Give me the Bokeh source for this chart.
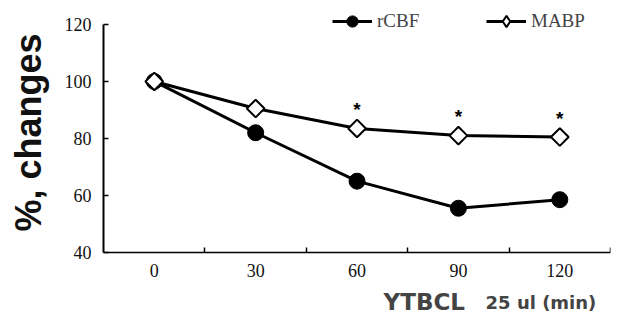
import math
from bokeh.plotting import figure
from bokeh.models import FixedTicker, Range1d, Label, Legend, LegendItem
from bokeh.core.properties import value
from bokeh.embed import file_html
from bokeh.resources import INLINE

# data
minutes = [0, 30, 60, 90, 120]
rcbf = [100, 82, 65, 55.5, 58.5]
mabp = [100, 90.5, 83.5, 81, 80.5]
star_minutes = [60, 90, 120]
star_values = [83.5, 81, 80.5]
y_ticks = [40, 60, 80, 100, 120]
x_ticks = [0, 30, 60, 90, 120]
x_minor = [15, 45, 75, 105, 135]

p = figure(width=617, height=322, output_backend="svg", toolbar_location=None,
           x_range=Range1d(-45.5, 135), y_range=Range1d(15.4, 124.9),
           min_border_left=0, min_border_right=7, min_border_top=10, min_border_bottom=0)
p.outline_line_color = None
p.xgrid.grid_line_color = None
p.ygrid.grid_line_color = None
p.background_fill_color = "white"

serif = "Liberation Serif"

xa = p.xaxis[0]
xa.fixed_location = 40
xa.bounds = (-15, 135)
xa.ticker = FixedTicker(ticks=x_ticks, minor_ticks=x_minor)
xa.major_tick_out = 0
xa.major_tick_in = 0
xa.minor_tick_in = 5
xa.minor_tick_out = 0
xa.minor_tick_line_width = 1.5
xa.axis_line_width = 1.5
xa.major_label_text_font = serif
xa.major_label_text_font_size = "18px"
xa.major_label_standoff = 12
xa.major_label_text_color = "#111111"

ya = p.yaxis[0]
ya.fixed_location = -15
ya.bounds = (40, 120)
ya.ticker = FixedTicker(ticks=y_ticks)
ya.major_tick_out = 0
ya.major_tick_in = 5
ya.minor_tick_line_color = None
ya.axis_line_width = 2
ya.major_tick_line_width = 1.5
ya.major_label_text_font = serif
ya.major_label_text_font_size = "18px"
ya.major_label_standoff = 12
ya.major_label_text_color = "#111111"

l1 = p.line(minutes, rcbf, line_color="black", line_width=3)
s1 = p.scatter(minutes, rcbf, marker="circle", size=16, fill_color="black", line_color="black")
d_leg = p.scatter(minutes, mabp, marker="diamond", size=12, fill_color="white",
                  line_color="black", line_width=2)
l2 = p.line(minutes, mabp, line_color="black", line_width=3)
s2 = p.scatter(minutes, mabp, marker="square", angle=math.pi / 4, size=12.5,
               fill_color="white", line_color="black", line_width=2)

p.text(star_minutes, star_values, text=["*"] * len(star_minutes),
       text_font=value("Liberation Sans"), text_font_style="bold", text_font_size="19px",
       text_align="center", text_baseline="middle", y_offset=-19, text_color="black")

legend = Legend(items=[LegendItem(label="rCBF", renderers=[l1, s1]),
                       LegendItem(label="MABP", renderers=[l2, d_leg])],
                orientation="horizontal", location=(332, 287),
                border_line_color=None, background_fill_alpha=0,
                glyph_width=40, glyph_height=28, label_width=80, spacing=29,
                label_standoff=5, padding=0, margin=0,
                label_text_font=serif, label_text_font_size="19px")
p.add_layout(legend, "center")

p.add_layout(Label(x=-15, y=80, x_offset=-75, y_offset=6, text="%, changes", angle=math.pi / 2,
                   text_font="Liberation Sans", text_font_style="bold", text_font_size="36px",
                   text_align="center", text_baseline="middle", text_color="#111111"))

p.add_layout(Label(x=-15, y=40, x_offset=280, y_offset=-50, text="YTBCL",
                   text_font="DejaVu Sans", text_font_style="bold", text_font_size="23px",
                   text_align="left", text_baseline="middle"))
p.add_layout(Label(x=-15, y=40, x_offset=382, y_offset=-50, text="25 ul (min)",
                   text_font="DejaVu Sans", text_font_style="bold", text_font_size="18px",
                   text_align="left", text_baseline="middle"))

open("out.html", "w").write(file_html(p, INLINE))
